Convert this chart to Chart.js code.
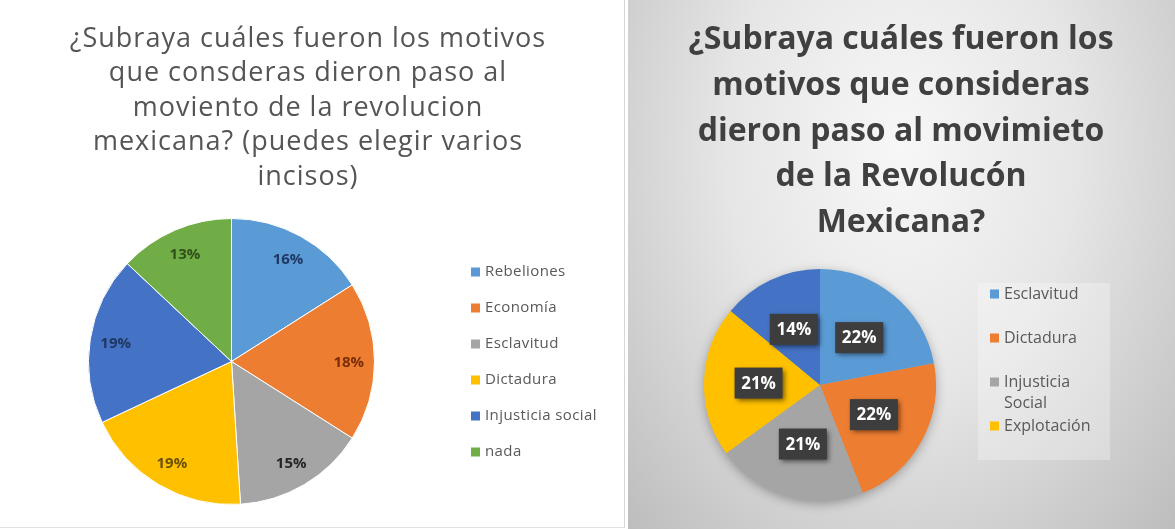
<!DOCTYPE html>
<html>
<head>
<meta charset="utf-8">
<script src="https://cdn.jsdelivr.net/npm/chart.js@4"></script>
<style>
  body { margin: 0; width: 1175px; height: 529px; background: #fff; position: relative; overflow: hidden; }
  #left { position: absolute; left: 0; top: 0; width: 624px; height: 527px; background: #fff;
          border-right: 1px solid #d6d6d6; border-bottom: 1px solid #e2e2e2; }
  #right { position: absolute; left: 628px; top: 0; width: 547px; height: 529px;
           background: radial-gradient(farthest-corner at 50% 28%, #f7f7f7 0%, #e6e6e6 45%, #bdbdbd 100%); }
  canvas { position: absolute; left: 0; top: 0; }
</style>
</head>
<body>
<div id="left"><canvas id="pieLeft" width="624" height="527"></canvas></div>
<div id="right"><canvas id="pieRight" width="547" height="529"></canvas></div>
<script>
// left chart data
const leftTitle = ['¿Subraya cuáles fueron los motivos', 'que consderas dieron paso al',
  'moviento de la revolucion', 'mexicana? (puedes elegir varios', 'incisos)'];
const leftLabels = ['Rebeliones', 'Economía', 'Esclavitud', 'Dictadura', 'Injusticia social', 'nada'];
const leftValues = [16, 18, 15, 19, 19, 13];

// right chart data (last slice has no legend entry)
const rightTitle = ['¿Subraya cuáles fueron los', 'motivos que consideras',
  'dieron paso al movimieto', 'de la Revolucón', 'Mexicana?'];
const rightLabels = ['Esclavitud', 'Dictadura', 'Injusticia Social', 'Explotación', ''];
const rightValues = [22, 22, 21, 21, 14];

const leftColors = ['#5B9BD5', '#ED7D31', '#A5A5A5', '#FFC000', '#4472C4', '#70AD47'];
const leftTextColors = ['#1F3864', '#7A2E08', '#262626', '#6B5200', '#1F3864', '#2F4F1C'];
const rightColors = ['#5B9BD5', '#ED7D31', '#A5A5A5', '#FFC000', '#4472C4'];

// multi-line title drawn at a fixed centre
function titlePlugin(lines, x, y, lineHeight, font, color, spacing) {
  return {
    id: 'titleLines',
    afterDraw(chart) {
      const ctx = chart.ctx;
      ctx.save();
      ctx.font = font; ctx.fillStyle = color;
      if (spacing) ctx.letterSpacing = spacing;
      ctx.textAlign = 'center'; ctx.textBaseline = 'middle';
      lines.forEach((t, i) => ctx.fillText(t, x, y + i * lineHeight));
      ctx.restore();
    }
  };
}

// legend: square + text, wraps long labels
function legendPlugin(o) {
  return {
    id: 'sideLegend',
    afterDraw(chart) {
      const ctx = chart.ctx;
      const labels = chart.data.labels;
      const colors = chart.data.datasets[0].backgroundColor;
      const lh = o.lineHeight || o.step;
      ctx.save();
      if (o.box) {
        ctx.fillStyle = o.box.color;
        ctx.fillRect(o.box.x, o.box.y, o.box.w, o.box.h);
      }
      ctx.font = o.font; ctx.textBaseline = 'middle'; ctx.textAlign = 'left';
      if (o.spacing) ctx.letterSpacing = o.spacing;
      let n = 0;
      labels.forEach((lab, i) => {
        if (!lab) return;
        const y = o.y + n * o.step;
        n++;
        ctx.fillStyle = colors[i];
        ctx.fillRect(o.x, y - o.sq / 2, o.sq, o.sq);
        ctx.fillStyle = o.color;
        let lines = [lab];
        if (o.maxWidth && ctx.measureText(lab).width > o.maxWidth) lines = lab.split(' ');
        lines.forEach((t, j) => ctx.fillText(t, o.x + o.sq + 5, y + j * lh));
      });
      ctx.restore();
    }
  };
}

// percentage labels on the slices
function pctPlugin(o) {
  return {
    id: 'pctLabels',
    afterDatasetsDraw(chart) {
      const ctx = chart.ctx;
      const data = chart.data.datasets[0].data;
      const total = data.reduce((a, b) => a + b, 0);
      ctx.save();
      ctx.font = o.font; ctx.textAlign = 'center'; ctx.textBaseline = 'middle';
      chart.getDatasetMeta(0).data.forEach((arc, i) => {
        const p = arc.getProps(['x', 'y', 'startAngle', 'endAngle', 'outerRadius'], true);
        const mid = (p.startAngle + p.endAngle) / 2;
        const px = p.x + Math.cos(mid) * p.outerRadius * o.radius;
        const py = p.y + Math.sin(mid) * p.outerRadius * o.radius;
        const text = Math.round(data[i] / total * 100) + '%';
        if (o.boxColor) {
          ctx.save();
          ctx.shadowColor = 'rgba(0,0,0,0.55)'; ctx.shadowBlur = 5;
          ctx.shadowOffsetX = 2; ctx.shadowOffsetY = 2;
          ctx.fillStyle = o.boxColor;
          ctx.fillRect(px - o.boxW / 2, py - o.boxH / 2, o.boxW, o.boxH);
          ctx.restore();
        }
        ctx.fillStyle = Array.isArray(o.color) ? o.color[i] : o.color;
        ctx.fillText(text, px, py + 1);
      });
      ctx.restore();
    }
  };
}

// soft shadow behind the right pie
const pieShadow = {
  id: 'pieShadow',
  beforeDatasetsDraw(chart) {
    const arc = chart.getDatasetMeta(0).data[0];
    if (!arc) return;
    const p = arc.getProps(['x', 'y', 'outerRadius'], true);
    const ctx = chart.ctx;
    ctx.save();
    ctx.shadowColor = 'rgba(0,0,0,0.35)'; ctx.shadowBlur = 12; ctx.shadowOffsetY = 3;
    ctx.fillStyle = '#aaa';
    ctx.beginPath(); ctx.arc(p.x, p.y, p.outerRadius - 1, 0, Math.PI * 2); ctx.fill();
    ctx.restore();
  }
};

const baseOptions = (padding) => ({
  responsive: false,
  animation: false,
  layout: { padding },
  plugins: { legend: { display: false }, title: { display: false }, tooltip: { enabled: false } }
});

new Chart(document.getElementById('pieLeft'), {
  type: 'pie',
  data: {
    labels: leftLabels,
    datasets: [{ data: leftValues, backgroundColor: leftColors, borderColor: '#ffffff', borderWidth: 1 }]
  },
  options: baseOptions({ left: 88, right: 249, top: 218, bottom: 22 }),
  plugins: [
    titlePlugin(leftTitle, 308, 39, 34.5, '400 27px "Open Sans"', '#555555', '1px'),
    legendPlugin({ x: 471, y: 272, step: 36, sq: 9, font: '15px "Open Sans"', color: '#595959',
      spacing: '0.4px' }),
    pctPlugin({ radius: 0.82, font: 'bold 15px "Open Sans"', color: leftTextColors })
  ]
});

new Chart(document.getElementById('pieRight'), {
  type: 'pie',
  data: {
    labels: rightLabels,
    datasets: [{ data: rightValues, backgroundColor: rightColors, borderWidth: 0 }]
  },
  options: baseOptions({ left: 76, right: 239, top: 269, bottom: 28 }),
  plugins: [
    pieShadow,
    titlePlugin(rightTitle, 273, 40, 45.7, 'bold 32px "Open Sans"', '#404040'),
    legendPlugin({ x: 362, y: 294, step: 44, sq: 9, lineHeight: 21, maxWidth: 100,
      font: '16px "Open Sans"', color: '#595959',
      box: { x: 350, y: 283, w: 132, h: 177, color: 'rgba(255,255,255,0.28)' } }),
    pctPlugin({ radius: 0.53, font: 'bold 17px "Open Sans"', color: '#ffffff',
      boxColor: '#3d3d3d', boxW: 48, boxH: 31 })
  ]
});
</script>
</body>
</html>
